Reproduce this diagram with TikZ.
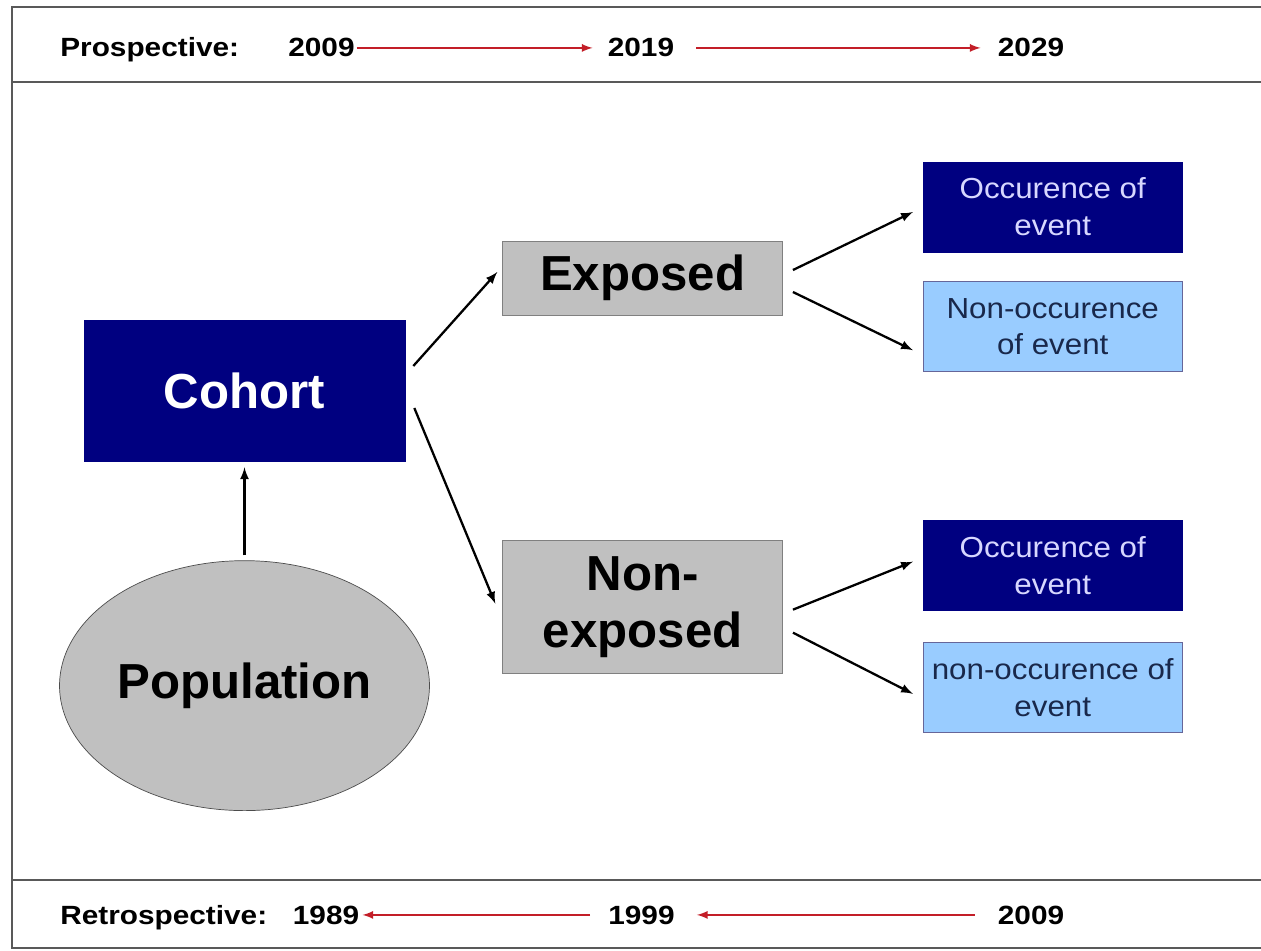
\documentclass[tikz,border=0pt]{standalone}
\usepackage{fontspec}
\setmainfont{Liberation Sans}
\newfontfamily\widesans[FakeStretch=1.13]{Liberation Sans}
\newfontfamily\slightwide[FakeStretch=1.08]{Liberation Sans}
\usetikzlibrary{shapes,arrows,positioning}

\definecolor{navy}{RGB}{0,0,128}
\definecolor{boxgrey}{RGB}{192,192,192}
\definecolor{skyblue}{RGB}{153,204,255}
\definecolor{arrowred}{RGB}{195,30,40}
\definecolor{lavender}{RGB}{215,215,255}
\definecolor{inkblue}{RGB}{25,40,75}

\begin{document}
\begin{tikzpicture}[x=0.02cm, y=0.02cm,
    bigtext/.style={font=\fontsize{28}{32}\selectfont\bfseries, align=center},
    smalltext/.style={font=\slightwide\fontsize{16.5}{21}\selectfont, align=center},
    yeartext/.style={font=\widesans\fontsize{15}{18}\selectfont\bfseries, inner sep=0pt},
    darkbox/.style={rectangle, draw=navy, fill=navy},
    greybox/.style={rectangle, draw=gray, fill=boxgrey, bigtext, inner sep=0pt},
    lightbox/.style={rectangle, draw=gray!80!blue, fill=skyblue, smalltext, text=inkblue, inner sep=0pt},
    eventbox/.style={darkbox, smalltext, text=lavender, inner sep=0pt, minimum width=5.18cm, minimum height=1.8cm},
    blackarrow/.style={->, >=latex, line width=1.3pt},
    redarrow/.style={->, >=latex, line width=1.1pt, arrowred}]
    \useasboundingbox (0,0) rectangle (1261,950);

    % frame with header and footer bands
    \draw[gray!70!black, line width=0.9pt] (12,2) rectangle (1275,943);
    \draw[gray!70!black, line width=1.1pt] (12,868) -- (1275,868);
    \draw[gray!70!black, line width=1.1pt] (12,70) -- (1275,70);

    % timelines
    \node (pro) [yeartext, anchor=base west] at (60,893) {Prospective:};
    \node (p2009) [yeartext, anchor=base] at (321.5,893) {2009};
    \node (p2019) [yeartext, anchor=base] at (641,893) {2019};
    \node (p2029) [yeartext, anchor=base] at (1031,893) {2029};
    \draw [redarrow] ([shift={(2,0)}]p2009.east) -- ([shift={(-15,0)}]p2019.west);
    \draw [redarrow] ([shift={(22,0)}]p2019.east) -- ([shift={(-17,0)}]p2029.west);

    \node (retro) [yeartext, anchor=base west] at (60,26) {Retrospective:};
    \node (r1989) [yeartext, base right=0.5cm of retro] {1989};
    \node (r1999) [yeartext, anchor=base] at (641.5,26) {1999};
    \node (r2009) [yeartext, anchor=base] at (1031,26) {2009};
    \draw [redarrow] ([shift={(-18,0)}]r1999.west) -- ([shift={(3,0)}]r1989.east);
    \draw [redarrow] ([shift={(-23,0)}]r2009.west) -- ([shift={(22,0)}]r1999.east);

    % main diagram
    \node (cohort) [darkbox, bigtext, text=white, minimum width=6.42cm, minimum height=2.82cm] at (244.5,559.5) {Cohort};
    \node (population) [ellipse, draw=gray!60!black, fill=boxgrey, bigtext, minimum width=7.4cm, minimum height=5cm, inner sep=0pt, below=1.98cm of cohort] {Population};
    \node (exposed) [greybox, minimum width=5.6cm, minimum height=1.48cm, right=1.94cm of cohort, yshift=2.25cm] {Exposed};
    \node (nonexposed) [greybox, minimum width=5.6cm, minimum height=2.66cm, below=4.5cm of exposed] {Non-\\exposed};

    \node (occ1) [eventbox, right=2.8cm of exposed, yshift=1.42cm] {Occurence of\\event};
    \node (nonocc1) [lightbox, minimum width=5.18cm, minimum height=1.8cm, below=0.58cm of occ1] {Non-occurence\\of event};
    \node (occ2) [eventbox, right=2.8cm of nonexposed, yshift=0.83cm] {Occurence of\\event};
    \node (nonocc2) [lightbox, minimum width=5.18cm, minimum height=1.8cm, below=0.62cm of occ2] {non-occurence of\\event};

    \draw [blackarrow] ([shift={(0,5)}]population.north) -- ([shift={(0,-6)}]cohort.south);
    \draw [blackarrow] ([shift={(8,24.5)}]cohort.east) -- ([shift={(-5,6)}]exposed.west);
    \draw [blackarrow] ([shift={(9,-17.5)}]cohort.east) -- ([shift={(-7,3.5)}]nonexposed.west);
    \draw [blackarrow] ([shift={(10,8)}]exposed.east) -- ([shift={(-10,-5)}]occ1.west);
    \draw [blackarrow] ([shift={(10,-14)}]exposed.east) -- ([shift={(-10,-23.5)}]nonocc1.west);
    \draw [blackarrow] ([shift={(10,-2.5)}]nonexposed.east) -- ([shift={(-10,4)}]occ2.west);
    \draw [blackarrow] ([shift={(10,-25.5)}]nonexposed.east) -- ([shift={(-10,-6.5)}]nonocc2.west);
\end{tikzpicture}
\end{document}
